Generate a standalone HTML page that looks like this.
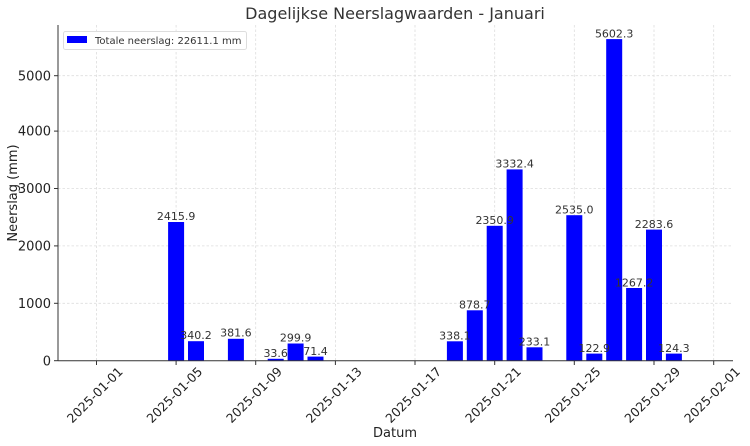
<!DOCTYPE html>
<html><head><meta charset="utf-8"><style>body{margin:0;background:#fff}svg{display:block;font-family:"DejaVu Sans","Liberation Sans",sans-serif}</style></head>
<body>
<svg width="750" height="446" viewBox="0 0 750 446">
<rect width="750" height="446" fill="#fff"/>
<g stroke="#ddd" stroke-width="0.8" stroke-dasharray="2.5,2">
<line x1="58" x2="733" y1="303.3" y2="303.3"/><line x1="58" x2="733" y1="245.9" y2="245.9"/><line x1="58" x2="733" y1="188.5" y2="188.5"/><line x1="58" x2="733" y1="131.1" y2="131.1"/><line x1="58" x2="733" y1="75.7" y2="75.7"/>
<line x1="96.5" x2="96.5" y1="25" y2="361"/><line x1="176.1" x2="176.1" y1="25" y2="361"/><line x1="255.7" x2="255.7" y1="25" y2="361"/><line x1="335.4" x2="335.4" y1="25" y2="361"/><line x1="415" x2="415" y1="25" y2="361"/><line x1="494.7" x2="494.7" y1="25" y2="361"/><line x1="574.3" x2="574.3" y1="25" y2="361"/><line x1="654" x2="654" y1="25" y2="361"/><line x1="713.7" x2="713.7" y1="25" y2="361"/>
</g>
<g fill="#0000ff">
<rect x="168.1" y="222" width="16" height="138.7"/>
<rect x="188" y="341.2" width="16" height="19.5"/>
<rect x="227.9" y="338.8" width="16" height="21.9"/>
<rect x="267.7" y="358.8" width="16" height="1.9"/>
<rect x="287.6" y="343.5" width="16" height="17.2"/>
<rect x="307.5" y="356.6" width="16" height="4.1"/>
<rect x="446.9" y="341.3" width="16" height="19.4"/>
<rect x="466.8" y="310.3" width="16" height="50.4"/>
<rect x="486.7" y="225.8" width="16" height="134.9"/>
<rect x="506.6" y="169.4" width="16" height="191.3"/>
<rect x="526.5" y="347.3" width="16" height="13.4"/>
<rect x="566.3" y="215.2" width="16" height="145.5"/>
<rect x="586.3" y="353.6" width="16" height="7.1"/>
<rect x="606.2" y="39.1" width="16" height="321.6"/>
<rect x="626.1" y="288" width="16" height="72.7"/>
<rect x="646" y="229.6" width="16" height="131.1"/>
<rect x="665.9" y="353.6" width="16" height="7.1"/>
</g>
<g font-size="11" fill="#333" text-anchor="middle">
<text x="176.1" y="220">2415.9</text><text x="196" y="339">340.2</text><text x="235.9" y="336.5">381.6</text><text x="275.7" y="357">33.6</text><text x="295.6" y="341.5">299.9</text><text x="315.5" y="355">71.4</text>
<text x="454.9" y="339.5">338.1</text><text x="474.8" y="308.5">878.7</text><text x="494.7" y="224">2350.9</text><text x="514.6" y="167.5">3332.4</text><text x="534.5" y="345.5">233.1</text>
<text x="574.3" y="213.5">2535.0</text><text x="594.3" y="352">122.9</text><text x="614.2" y="37.5">5602.3</text><text x="634.1" y="286.5">1267.2</text><text x="654" y="228">2283.6</text><text x="673.9" y="352">124.3</text>
</g>
<g stroke="#333" stroke-width="1"><line x1="58" x2="58" y1="25" y2="361"/><line x1="58" x2="733" y1="360.7" y2="360.7"/></g>
<g stroke="#333"><line x1="54" x2="58" y1="360.7" y2="360.7"/><line x1="54" x2="58" y1="303.3" y2="303.3"/><line x1="54" x2="58" y1="245.9" y2="245.9"/><line x1="54" x2="58" y1="188.5" y2="188.5"/><line x1="54" x2="58" y1="131.1" y2="131.1"/><line x1="54" x2="58" y1="75.7" y2="75.7"/>
<line x1="96.5" x2="96.5" y1="361" y2="365"/><line x1="176.1" x2="176.1" y1="361" y2="365"/><line x1="255.7" x2="255.7" y1="361" y2="365"/><line x1="335.4" x2="335.4" y1="361" y2="365"/><line x1="415" x2="415" y1="361" y2="365"/><line x1="494.7" x2="494.7" y1="361" y2="365"/><line x1="574.3" x2="574.3" y1="361" y2="365"/><line x1="654" x2="654" y1="361" y2="365"/><line x1="713.7" x2="713.7" y1="361" y2="365"/></g>
<g font-size="13" fill="#222" text-anchor="end">
<text x="51" y="365.5">0</text><text x="51" y="308">1000</text><text x="51" y="250.5">2000</text><text x="51" y="193">3000</text><text x="51" y="135.5">4000</text><text x="51" y="80.5">5000</text>
</g>
<g font-size="12.5" fill="#222" text-anchor="middle">
<text transform="translate(98,398) rotate(-45)">2025-01-01</text>
<text transform="translate(177.6,398) rotate(-45)">2025-01-05</text>
<text transform="translate(257.2,398) rotate(-45)">2025-01-09</text>
<text transform="translate(336.9,398) rotate(-45)">2025-01-13</text>
<text transform="translate(416.5,398) rotate(-45)">2025-01-17</text>
<text transform="translate(496.2,398) rotate(-45)">2025-01-21</text>
<text transform="translate(575.8,398) rotate(-45)">2025-01-25</text>
<text transform="translate(655.5,398) rotate(-45)">2025-01-29</text>
<text transform="translate(715.2,398) rotate(-45)">2025-02-01</text>
</g>
<text x="395" y="437" font-size="13" fill="#222" text-anchor="middle">Datum</text>
<text transform="translate(17,193) rotate(-90)" font-size="13" fill="#222" text-anchor="middle">Neerslag (mm)</text>
<text x="395" y="19" font-size="16" fill="#333" text-anchor="middle">Dagelijkse Neerslagwaarden - Januari</text>
<rect x="63.5" y="31.5" width="183" height="18" fill="#fff" stroke="#ddd" rx="2"/>
<rect x="67" y="36" width="20" height="7" fill="#0000ff"/>
<text x="95" y="44" font-size="10" fill="#333">Totale neerslag: 22611.1 mm</text>
</svg>
</body></html>
